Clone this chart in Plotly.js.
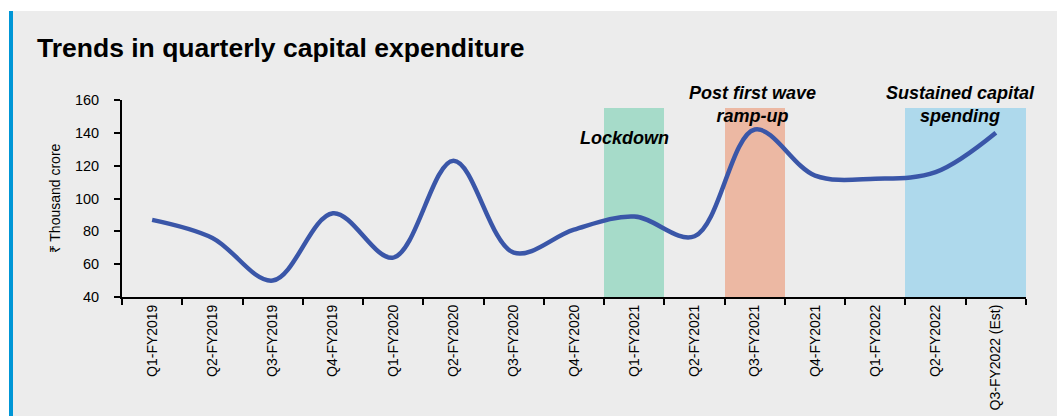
<!DOCTYPE html>
<html>
<head>
<meta charset="utf-8">
<script src="https://cdn.plot.ly/plotly-3.0.1.min.js"></script>
<style>
  html, body { margin: 0; padding: 0; background: #ffffff; width: 1057px; height: 416px; overflow: hidden; }
  #strip { position: absolute; left: 9px; top: 11px; width: 4px; height: 405px; background: #0096d6; }
  #chart { position: absolute; left: 13px; top: 11px; width: 1044px; height: 405px; }
</style>
</head>
<body>
<div id="strip"></div>
<div id="chart"></div>
<script>
// Data
const quarters = ["Q1-FY2019","Q2-FY2019","Q3-FY2019","Q4-FY2019","Q1-FY2020","Q2-FY2020","Q3-FY2020","Q4-FY2020","Q1-FY2021","Q2-FY2021","Q3-FY2021","Q4-FY2021","Q1-FY2022","Q2-FY2022","Q3-FY2022 (Est)"];
const capex = [87, 76, 50, 91, 64, 123, 67, 81, 89, 77, 142, 114, 112, 116, 140];
const shadeQuarters = ["Q1-FY2021","Q3-FY2021","Q2-FY2022","Q3-FY2022 (Est)"];
const shadeValues = [155, 155, 155, 155];
const shadeColors = ["#a6dbc9", "#ecb8a3", "#aed9ec", "#aed9ec"];
const phaseLabels = ["Lockdown", "Post first wave<br>ramp-up", "Sustained capital<br>spending"];

const sans = "'Liberation Sans', Arial, sans-serif";

const traces = [
  {
    type: "bar", x: shadeQuarters, y: shadeValues, width: 1,
    marker: { color: shadeColors, line: { width: 0 } },
    hoverinfo: "skip", showlegend: false
  },
  {
    type: "scatter", mode: "lines", x: quarters, y: capex,
    line: { color: "#3a56a8", width: 4.5, shape: "spline", smoothing: 1 },
    showlegend: false
  }
];

const annFont = { family: sans, size: 18, color: "#000000" };
const layout = {
  width: 1044, height: 405,
  paper_bgcolor: "#ececec", plot_bgcolor: "rgba(0,0,0,0)",
  margin: { l: 109, r: 31, t: 89, b: 119 },
  showlegend: false,
  bargap: 0,
  title: {
    text: "Trends in quarterly capital expenditure",
    font: { family: sans, size: 26.5, color: "#000000", weight: "bold" },
    x: 24 / 1044, xanchor: "left", xref: "container",
    y: 1 - 37 / 405, yanchor: "middle", yref: "container"
  },
  xaxis: {
    type: "category", categoryorder: "array", categoryarray: quarters,
    range: [-0.5, 14.5],
    showline: true, linecolor: "#000000", linewidth: 2,
    ticks: "outside", tickson: "boundaries", ticklen: 6, tickwidth: 2, tickcolor: "#000000",
    tickangle: -90, showgrid: false, zeroline: false,
    tickfont: { family: sans, size: 14, color: "#000000" }
  },
  yaxis: {
    range: [40, 160], dtick: 20, tick0: 40,
    showline: true, linecolor: "#000000", linewidth: 2,
    ticks: "outside", ticklen: 6, tickwidth: 2, tickcolor: "#000000",
    ticklabelstandoff: 12,
    showgrid: false, zeroline: false,
    tickfont: { family: sans, size: 14.5, color: "#000000" },
    title: { text: "₹ Thousand crore", font: { family: sans, size: 14, color: "#000000" }, standoff: 11 }
  },
  annotations: [
    { x: 7.84, y: 137, xref: "x", yref: "y", text: "<b><i>" + phaseLabels[0] + "</i></b>", showarrow: false, font: annFont, xanchor: "center", yanchor: "middle" },
    { x: 9.96, y: 157, xref: "x", yref: "y", text: "<b><i>" + phaseLabels[1] + "</i></b>", showarrow: false, font: annFont, xanchor: "center", yanchor: "middle" },
    { x: 13.42, y: 157, xref: "x", yref: "y", text: "<b><i>" + phaseLabels[2] + "</i></b>", showarrow: false, font: annFont, xanchor: "center", yanchor: "middle" }
  ]
};

Plotly.newPlot("chart", traces, layout, { staticPlot: true, displayModeBar: false });
</script>
</body>
</html>
